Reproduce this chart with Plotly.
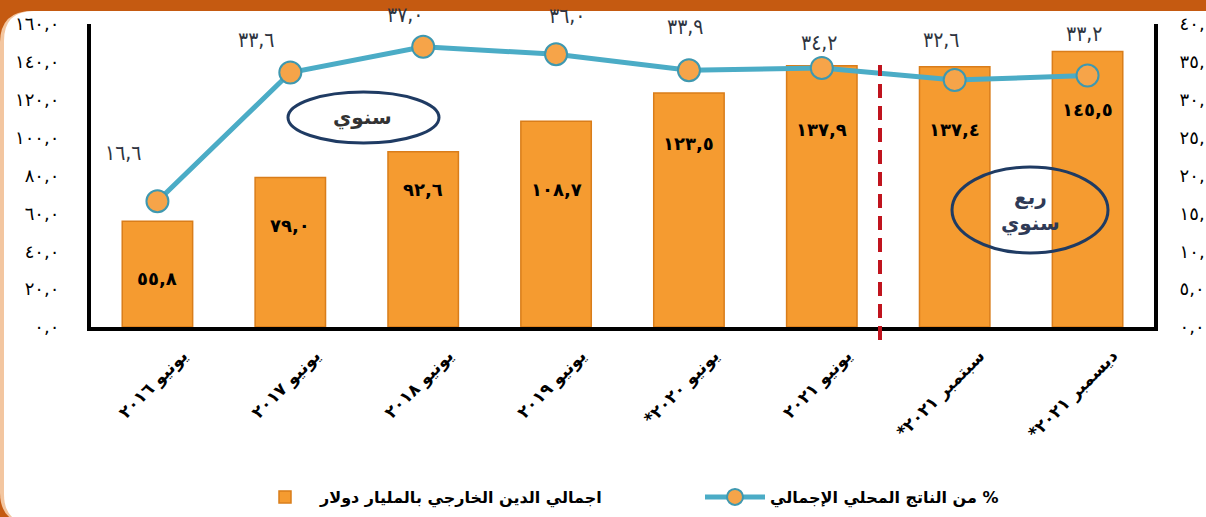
import plotly.graph_objects as go

# ---------------- data ----------------
categories = ["يونيو ٢٠١٦", "يونيو ٢٠١٧", "يونيو ٢٠١٨", "يونيو ٢٠١٩",
              "*يونيو ٢٠٢٠", "يونيو ٢٠٢١", "*سبتمبر ٢٠٢١", "*ديسمبر ٢٠٢١"]
debt_bn_usd = [55.8, 79.0, 92.6, 108.7, 123.5, 137.9, 137.4, 145.5]
pct_of_gdp = [16.6, 33.6, 37.0, 36.0, 33.9, 34.2, 32.6, 33.2]
left_ticks = [0, 20, 40, 60, 80, 100, 120, 140, 160]
right_ticks = [0, 5, 10, 15, 20, 25, 30, 35, 40]
bar_name = "اجمالي الدين الخارجي بالمليار دولار"
line_name = "من الناتج المحلي الإجمالي %"
annual_label = "سنوي"
quarterly_label = "ربع<br>سنوي"

# ---------------- helpers / styles ----------------
AR = str.maketrans("0123456789", "٠١٢٣٤٥٦٧٨٩")


def ar(v):
    return f"{v:.1f}".replace(".", ",").translate(AR)


W, H = 1206, 517
L, R, T, B = 91, 52, 24, 190
PW, PH = W - L - R, H - T - B


def px(x):
    return (x - L) / PW


def py(y):
    return (H - B - y) / PH


FONT = "DejaVu Sans"
bar_label_dy = [-57, -48, -38, -68, -50, -64, -63, -58]
line_label_dx = [-34, -34, -18, 11, -4, -3, -14, -4]
line_label_dy = [48, 32, 32, 38, 43, 25, 40, 42]

fig = go.Figure()
fig.add_trace(go.Bar(
    x=categories, y=debt_bn_usd, name=bar_name,
    marker=dict(color="#F59B30", line=dict(color="#D97D1A", width=1.5)),
    yaxis="y",
))
fig.add_trace(go.Scatter(
    x=categories, y=pct_of_gdp, name=line_name, mode="lines+markers",
    line=dict(color="#4BACC6", width=5),
    marker=dict(size=22, color="#F6A449", line=dict(color="#3E98B0", width=2)),
    yaxis="y2",
))

annotations = []
for c, v, dy in zip(categories, debt_bn_usd, bar_label_dy):
    annotations.append(dict(x=c, y=v, xref="x", yref="y", yshift=dy, text=ar(v),
                            showarrow=False, xanchor="center", yanchor="middle",
                            font=dict(family=FONT, size=18, color="black", weight="bold")))
for c, v, dx, dy in zip(categories, pct_of_gdp, line_label_dx, line_label_dy):
    annotations.append(dict(x=c, y=v, xref="x", yref="y2", xshift=dx, yshift=dy, text=ar(v),
                            showarrow=False, xanchor="center", yanchor="middle",
                            font=dict(family="DejaVu Sans Condensed", size=21, color="#2E3440")))
annotations.append(dict(x=px(362), y=py(117), xref="paper", yref="paper", text=annual_label,
                        showarrow=False, xanchor="center", yanchor="middle",
                        font=dict(family=FONT, size=20, color="#333333", weight="bold")))
annotations.append(dict(x=px(1030), y=py(210), xref="paper", yref="paper", text=quarterly_label,
                        showarrow=False, xanchor="center", yanchor="middle",
                        font=dict(family=FONT, size=20, color="#2F3A56", weight="bold")))


def rounded_path(x0, y0, x1, y1, r):
    # pixel coords -> paper coords, rounded corners via quadratic curves
    pts = [
        ("M", (x0 + r, y0)), ("L", (x1 - r, y0)), ("Q", (x1, y0), (x1, y0 + r)),
        ("L", (x1, y1 - r)), ("Q", (x1, y1), (x1 - r, y1)),
        ("L", (x0 + r, y1)), ("Q", (x0, y1), (x0, y1 - r)),
        ("L", (x0, y0 + r)), ("Q", (x0, y0), (x0 + r, y0)),
    ]
    s = ""
    for item in pts:
        cmd = item[0]
        coords = " ".join(f"{px(p[0]):.5f},{py(p[1]):.5f}" for p in item[1:])
        s += f"{cmd} {coords} "
    return s + "Z"


shapes = [
    dict(type="path", xref="paper", yref="paper", layer="below",
         path=rounded_path(0, 11, 1240, 524, 32), fillcolor="#F3C6A0", line=dict(width=0)),
    dict(type="path", xref="paper", yref="paper", layer="below",
         path=rounded_path(4, 11, 1240, 524, 30), fillcolor="white", line=dict(width=0)),
    dict(type="line", xref="paper", yref="paper", x0=px(880), x1=px(880), y0=py(340), y1=py(65),
         line=dict(color="#C0141E", width=4, dash="14px,8px")),
    dict(type="circle", xref="paper", yref="paper", x0=px(288), x1=px(439), y0=py(143), y1=py(92),
         line=dict(color="#1F3B63", width=3)),
    dict(type="circle", xref="paper", yref="paper", x0=px(952), x1=px(1108), y0=py(253), y1=py(167),
         line=dict(color="#1F3B63", width=3)),
]

fig.update_layout(
    width=W, height=H,
    margin=dict(l=L, r=R, t=T, b=B, autoexpand=False),
    paper_bgcolor="#C55A11", plot_bgcolor="rgba(0,0,0,0)",
    font=dict(family=FONT, color="black"),
    bargap=0.47,
    showlegend=True,
    legend=dict(orientation="h", x=px(250), xanchor="left", y=py(497), yanchor="middle",
                font=dict(family=FONT, size=16, color="black", weight="bold"),
                bgcolor="rgba(0,0,0,0)", itemwidth=60, entrywidth=375),
    xaxis=dict(type="category", range=[-0.5, 7.5], showline=True, linecolor="black", linewidth=4,
               showgrid=False, ticks="", tickangle=-45, ticklabelshift=25, ticklabelstandoff=8,
               tickfont=dict(family=FONT, size=17, color="black", weight="bold")),
    yaxis=dict(range=[0, 160], tickvals=left_ticks, ticktext=[ar(v) for v in left_ticks],
               showline=True, linecolor="black", linewidth=4, showgrid=False, zeroline=False,
               ticks="", ticklabelstandoff=24,
               tickfont=dict(family=FONT, size=18, color="black")),
    yaxis2=dict(range=[0, 40], overlaying="y", side="right",
                tickvals=right_ticks, ticktext=[ar(v) for v in right_ticks],
                showline=True, linecolor="black", linewidth=4, showgrid=False, zeroline=False,
                ticks="", ticklabelstandoff=18,
                tickfont=dict(family=FONT, size=18, color="black")),
    annotations=annotations,
    shapes=shapes,
)

fig.write_html("out.html", config={"displayModeBar": False},
               post_script="document.body.style.margin='0';document.body.style.padding='0';")
